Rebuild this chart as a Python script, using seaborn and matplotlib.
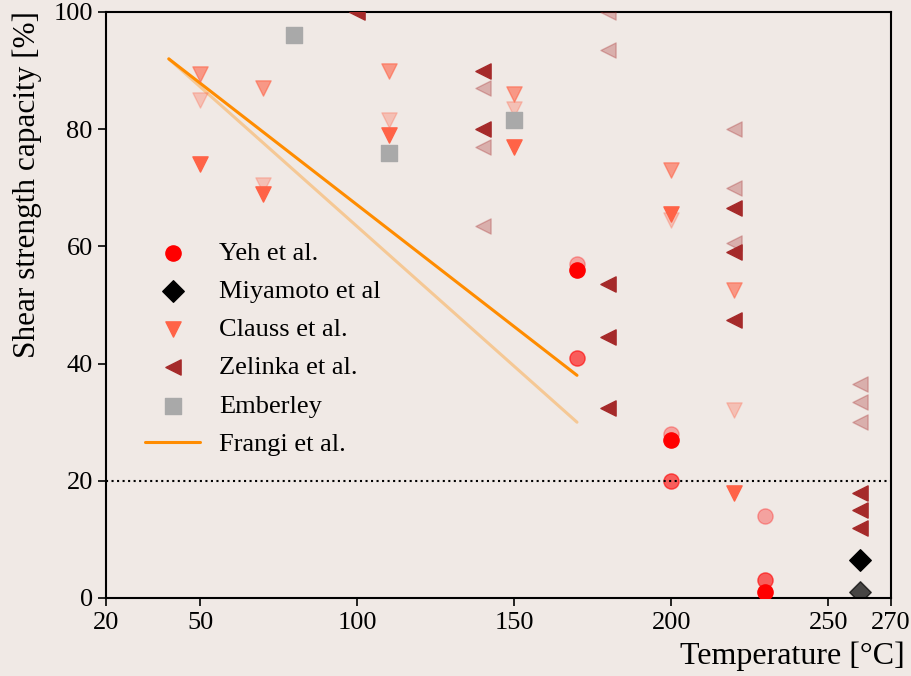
import matplotlib
matplotlib.use("Agg")
import matplotlib.pyplot as plt
import seaborn as sns
import pandas as pd

# ---- data ----
yeh_x = [170, 200, 230]
yeh_full = [56, 27, 1]
yeh_mid = [41, 20, 3]
yeh_light = [57, 28, 14]

miyamoto_x = [260]
miyamoto_full = [6.5]
miyamoto_mid = [1]

clauss_x = [50, 70, 110, 150, 200, 220]
clauss_full = [74, 69, 79, 77, 65.5, 18]
clauss_mid = [89.5, 87, 90, 86, 73, 52.5]
clauss_light = [85, 70.5, 81.5, 83.5, 64.5, 32]

zelinka_full_x = [100, 140, 140, 180, 180, 180, 220, 220, 220, 260, 260, 260]
zelinka_full_y = [100, 90, 80, 53.5, 44.5, 32.5, 66.5, 59, 47.5, 18, 15, 12]
zelinka_light_x = [140, 140, 140, 180, 180, 220, 220, 220, 260, 260, 260]
zelinka_light_y = [87, 77, 63.5, 100, 93.5, 80, 70, 60.5, 36.5, 33.5, 30]

emberley_x = [80, 110, 150]
emberley_y = [96, 76, 81.5]

frangi_x = [40, 170]
frangi_y = [92, 38]
frangi2_y = [92, 30]

x_ticks = [20, 50, 100, 150, 200, 250, 270]
y_ticks = [0, 20, 40, 60, 80, 100]

bg = "#f0e9e5"
sns.set_theme(style="ticks")
plt.rcParams["font.family"] = ["Liberation Serif", "DejaVu Serif"]
plt.rcParams["text.color"] = "black"
plt.rcParams["axes.labelcolor"] = "black"

fig, ax = plt.subplots(figsize=(9.11, 6.76), dpi=100)
fig.patch.set_facecolor(bg)
ax.set_facecolor(bg)
fig.subplots_adjust(left=106/911, right=891/911, top=1-12/676, bottom=1-598/676)

S = 120

def pts(x, y, marker, color, alpha, label=None):
    df = pd.DataFrame({"x": x, "y": y})
    sns.scatterplot(data=df, x="x", y="y", marker=marker, color=color,
                    alpha=alpha, s=S, edgecolor=color, linewidth=1,
                    ax=ax, label=label, legend=False, clip_on=True, zorder=3)

# Frangi lines
fr = pd.DataFrame({"x": frangi_x, "y": frangi_y})
fr2 = pd.DataFrame({"x": frangi_x, "y": frangi2_y})
sns.lineplot(data=fr2, x="x", y="y", color="darkorange", alpha=0.35, lw=2.2, ax=ax, zorder=2)

# Yeh
pts(yeh_x, yeh_light, "o", "red", 0.3)
pts(yeh_x, yeh_mid, "o", "red", 0.6)
pts(yeh_x, yeh_full, "o", "red", 1.0, "Yeh et al.")
# Miyamoto
pts(miyamoto_x, miyamoto_mid, "D", "black", 0.7)
pts(miyamoto_x, miyamoto_full, "D", "black", 1.0, "Miyamoto et al")
# Clauss
pts(clauss_x, clauss_light, "v", "tomato", 0.3)
pts(clauss_x, clauss_mid, "v", "tomato", 0.6)
pts(clauss_x, clauss_full, "v", "tomato", 1.0, "Clauss et al.")
# Zelinka
pts(zelinka_light_x, zelinka_light_y, "<", "brown", 0.3)
pts(zelinka_full_x, zelinka_full_y, "<", "brown", 1.0, "Zelinka et al.")
# Emberley
pts(emberley_x, emberley_y, "s", "darkgray", 1.0, "Emberley")

sns.lineplot(data=fr, x="x", y="y", color="darkorange", lw=2.2, ax=ax, label="Frangi et al.", zorder=2)

ax.axhline(20, color="black", ls=":", lw=1.5, zorder=4)

ax.set_xlim(20, 270)
ax.set_ylim(0, 100)
ax.set_xticks(x_ticks)
ax.set_yticks(y_ticks)
ax.tick_params(axis="both", labelsize=19, length=6, width=1.2, color="black", labelcolor="black")
ax.tick_params(axis="x", pad=4)
for sp in ax.spines.values():
    sp.set_color("black")
    sp.set_linewidth(1.5)

ax.set_xlabel("Temperature [°C]", fontsize=23, color="black", ha="right")
ax.xaxis.set_label_coords(1.018, -0.075)
ax.set_ylabel("Shear strength capacity [%]", fontsize=22.5, color="black")
ax.yaxis.set_label_coords(-0.082, 0.705)

leg = ax.legend(loc="upper left", bbox_to_anchor=(0.036, 0.627), frameon=False,
                fontsize=19, handlelength=2.1, handletextpad=0.72,
                labelspacing=0.56, borderaxespad=0, labelcolor="black")

fig.savefig("out.png", dpi=100, facecolor=bg)
